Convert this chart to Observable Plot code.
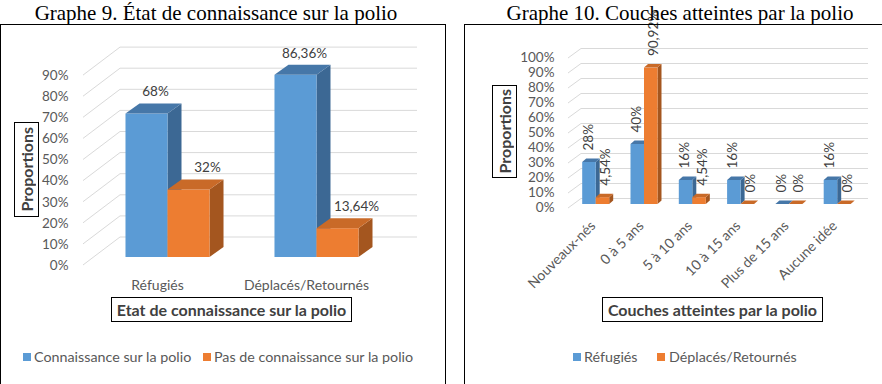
<!DOCTYPE html>
<html><head><meta charset="utf-8">
<script src="https://cdn.jsdelivr.net/npm/d3@7"></script>
<script src="https://cdn.jsdelivr.net/npm/@observablehq/plot@0.6"></script>
<style>
html,body{margin:0;padding:0;background:#fff;}
#root{position:relative;width:882px;height:384px;overflow:hidden;font-family:Lato,sans-serif;}
.title{position:absolute;top:1px;font-family:"Liberation Serif","Times New Roman",serif;font-size:21px;line-height:24px;color:#000;white-space:nowrap;text-align:center;}
.panel{position:absolute;border:1px solid #000;box-sizing:border-box;}
.axbox{position:absolute;border:1px solid #000;box-sizing:border-box;background:#fff;font-weight:bold;font-size:16px;color:#404040;display:flex;align-items:center;justify-content:center;white-space:nowrap;}
.vert{writing-mode:vertical-rl;transform:rotate(180deg);}
.leg{position:absolute;font-size:14.3px;color:#595959;white-space:nowrap;line-height:16px;}
.sw{position:absolute;width:8px;height:8px;}
.chart{position:absolute;top:0;}
</style></head>
<body><div id="root">
<div id="c9" class="chart" style="left:0;width:446px;"></div>
<div id="c10" class="chart" style="left:446px;width:436px;"></div>
<div class="title" style="left:0;width:432px;">Graphe 9. État de connaissance sur la polio</div>
<div class="title" style="left:464px;width:432px;">Graphe 10. Couches atteintes par la polio</div>
<div class="panel" style="left:0;top:24px;width:446px;height:400px;"></div>
<div class="panel" style="left:464px;top:24px;width:500px;height:400px;"></div>
<div class="axbox" style="left:111px;top:297px;width:241px;height:25px;">Etat de connaissance sur la polio</div>
<div class="axbox" style="left:14px;top:122px;width:25px;height:95px;"><span class="vert">Proportions</span></div>
<div class="axbox" style="left:602px;top:297px;width:221px;height:25px;">Couches atteintes par la polio</div>
<div class="axbox" style="left:492px;top:85px;width:25px;height:93px;"><span class="vert">Proportions</span></div>
<div class="sw" style="left:23px;top:353px;background:#5B9BD5;"></div>
<div class="leg" id="l9a" style="left:34px;top:349px;"></div>
<div class="sw" style="left:203px;top:353px;background:#ED7D31;"></div>
<div class="leg" id="l9b" style="left:214px;top:349px;"></div>
<div class="sw" style="left:573px;top:353px;background:#5B9BD5;"></div>
<div class="leg" id="l10a" style="left:584px;top:349px;"></div>
<div class="sw" style="left:657px;top:353px;background:#ED7D31;"></div>
<div class="leg" id="l10b" style="left:669px;top:349px;"></div>
</div>
<script>
// ---- Data: Graphe 9 ----
const g9Categories = ["Réfugiés", "Déplacés/Retournés"];
const g9Series = ["Connaissance sur la polio", "Pas de connaissance sur la polio"];
const g9Connaissance = [68, 86.36];
const g9PasConnaissance = [32, 13.64];
const g9Ticks = [0, 10, 20, 30, 40, 50, 60, 70, 80, 90];

// ---- Data: Graphe 10 ----
const g10Categories = ["Nouveaux-nés", "0 à 5 ans", "5 à 10 ans", "10 à 15 ans", "Plus de 15 ans", "Aucune idée"];
const g10Series = ["Réfugiés", "Déplacés/Retournés"];
const g10Refugies = [28, 40, 16, 16, 0, 16];
const g10Deplaces = [4.54, 90.92, 4.54, 0, 0, 0];
const g10Ticks = [0, 10, 20, 30, 40, 50, 60, 70, 80, 90, 100];

const palette = [
  {front: "#5B9BD5", top: "#4677A8", side: "#3C6894"},
  {front: "#ED7D31", top: "#C96A28", side: "#A4561F"}
];

function buildRows(cats, seriesArrays) {
  const rows = [];
  cats.forEach((c, i) => seriesArrays.forEach((arr, k) => rows.push({cat: c, k, value: arr[i]})));
  return rows;
}
const rows9 = buildRows(g9Categories, [g9Connaissance, g9PasConnaissance]);
const rows10 = buildRows(g10Categories, [g10Refugies, g10Deplaces]);

const fmt = v => (Number.isInteger(v) ? String(v) : v.toFixed(2).replace(".", ",")) + "%";

function fnMark(draw) {
  return function(...args) {
    let scales, dims;
    for (const a of args) {
      if (a && typeof a === "object") {
        if (!scales && typeof a.y === "function" && typeof a.x === "function") scales = a;
        else if (!dims && typeof a.width === "number" && a.marginLeft !== undefined) dims = a;
      }
    }
    return draw(scales, dims);
  };
}

function grid3d(ticks, geo) {
  return fnMark((s, dims) => {
    const g = d3.create("svg:g").attr("fill", "none").attr("stroke", "#D9D9D9").attr("stroke-width", 1);
    const xL = dims.marginLeft, xR = dims.width - dims.marginRight;
    for (const t of ticks) {
      const y0 = s.y(t) + geo.front;
      g.append("path").attr("d", `M${xL},${y0}L${xL + geo.dx},${y0 + geo.dy}L${xR},${y0 + geo.dy}`);
    }
    return g.node();
  });
}

function bars3d(rows, colors, geo) {
  return fnMark((s) => {
    const g = d3.create("svg:g");
    const bw = s.x.bandwidth ? s.x.bandwidth() : geo.bw;
    const w = bw / 2;
    for (const r of rows) {
      const x0 = s.x(r.cat) + r.k * w + geo.bx;
      const yt = s.y(r.value) + geo.by, yb = s.y(0) + geo.by;
      const c = colors[r.k];
      g.append("path").attr("fill", c.side)
        .attr("d", `M${x0 + w},${yt}L${x0 + w + geo.dx},${yt + geo.dy}L${x0 + w + geo.dx},${yb + geo.dy}L${x0 + w},${yb}Z`);
      g.append("rect").attr("fill", c.front).attr("x", x0).attr("y", yt).attr("width", w).attr("height", Math.max(0, yb - yt));
      g.append("path").attr("fill", c.top)
        .attr("d", `M${x0},${yt}L${x0 + w},${yt}L${x0 + w + geo.dx},${yt + geo.dy}L${x0 + geo.dx},${yt + geo.dy}Z`);
    }
    return g.node();
  });
}

const baseStyle = {background: "transparent", fontFamily: "Lato, sans-serif", fontSize: "13px", color: "#595959", overflow: "visible"};

const chart9 = Plot.plot({
  width: 446, height: 384,
  marginLeft: 83, marginRight: 29, marginTop: 54, marginBottom: 119,
  style: baseStyle,
  x: {type: "band", domain: g9Categories, range: [40.5, 422.5], paddingInner: 0.436, paddingOuter: 0.5, round: false},
  y: {domain: [0, 100]},
  marks: [
    grid3d(g9Ticks, {front: 0, dx: 37, dy: -28}),
    bars3d(rows9, palette, {bx: 10.5, by: -8, dx: 14, dy: -10, bw: 84}),
    Plot.text(rows9.filter(d => d.k === 0), {x: "cat", y: "value", text: d => fmt(d.value), dx: -2, dy: -30, lineAnchor: "middle", fill: "#404040", fontSize: 13.5}),
    Plot.text(rows9.filter(d => d.k === 1), {x: "cat", y: "value", text: d => fmt(d.value), dx: 50, dy: -30, lineAnchor: "middle", fill: "#404040", fontSize: 13.5}),
    Plot.axisY(g9Ticks, {tickSize: 0, tickPadding: 15, tickFormat: d => d + "%", label: null, fontSize: 13.5}),
    Plot.axisX({tickSize: 0, tickPadding: 20, lineAnchor: "middle", label: null, fontSize: 14})
  ]
});
document.getElementById("c9").appendChild(chart9);

const chart10 = Plot.plot({
  width: 436, height: 384,
  marginLeft: 122, marginRight: 14, marginTop: 57, marginBottom: 177,
  style: baseStyle,
  x: {type: "band", domain: g10Categories, range: [109.05, 425.85], paddingInner: 0.441, paddingOuter: 0.5, round: false},
  y: {domain: [0, 100]},
  marks: [
    grid3d(g10Ticks, {front: 1, dx: 13, dy: -9.5}),
    bars3d(rows10, palette, {bx: 3, by: -3, dx: 4, dy: -3.5, bw: 27}),
    Plot.text(rows10.filter(d => d.k === 0), {x: "cat", y: "value", text: d => fmt(d.value), rotate: -90, textAnchor: "start", lineAnchor: "middle", dx: -5, dy: -15, fill: "#404040", fontSize: 13.5}),
    Plot.text(rows10.filter(d => d.k === 1), {x: "cat", y: "value", text: d => fmt(d.value), rotate: -90, textAnchor: "start", lineAnchor: "middle", dx: 12.5, dy: -15, fill: "#404040", fontSize: 13.5}),
    Plot.axisY(g10Ticks, {tickSize: 0, tickPadding: 14, tickFormat: d => d + "%", label: null, fontSize: 13.5}),
    Plot.axisX({tickSize: 0, tickPadding: 16, tickRotate: -45, textAnchor: "end", lineAnchor: "middle", label: null, fontSize: 14})
  ]
});
document.getElementById("c10").appendChild(chart10);

document.getElementById("l9a").textContent = g9Series[0];
document.getElementById("l9b").textContent = g9Series[1];
document.getElementById("l10a").textContent = g10Series[0];
document.getElementById("l10b").textContent = g10Series[1];
</script>
</body></html>
